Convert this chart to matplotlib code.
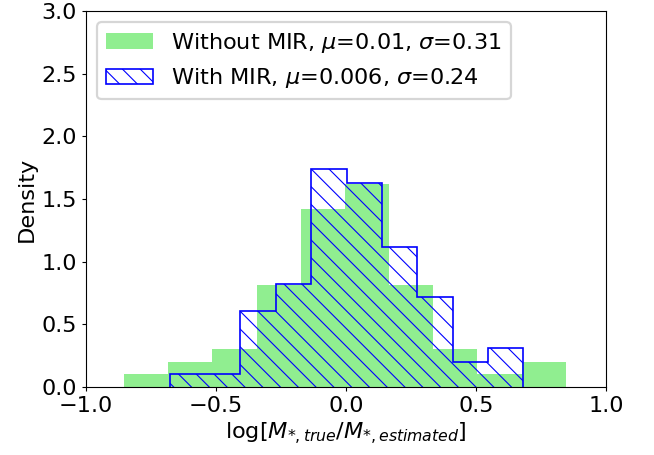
import numpy as np
import matplotlib
matplotlib.use("Agg")
import matplotlib.pyplot as plt

# density histograms of log(M_true / M_estimated)
green_edges = [-0.853, -0.683, -0.514, -0.344, -0.174, -0.004, 0.165, 0.335, 0.505, 0.675, 0.845]
green_density = [0.10, 0.20, 0.30, 0.81, 1.42, 1.62, 0.81, 0.30, 0.10, 0.20]

blue_edges = [-0.678, -0.542, -0.406, -0.270, -0.134, 0.002, 0.138, 0.274, 0.410, 0.546, 0.682]
blue_density = [0.10, 0.10, 0.61, 0.82, 1.74, 1.63, 1.12, 0.72, 0.20, 0.31]

label_without = r'Without MIR, $\mu$=0.01, $\sigma$=0.31'
label_with = r'With MIR, $\mu$=0.006, $\sigma$=0.24'

plt.rcParams['font.size'] = 10.1
plt.rcParams['hatch.linewidth'] = 0.5
plt.rcParams['hatch.color'] = 'blue'

fig = plt.figure(figsize=(654 / 160, 455 / 160), dpi=160)
ax = fig.add_axes([86 / 654, 68 / 455, 520 / 654, 376 / 455])

ax.hist(green_edges[:-1], bins=green_edges, weights=green_density,
        histtype='stepfilled', color='lightgreen', label=label_without)
ax.hist(blue_edges[:-1], bins=blue_edges, weights=blue_density,
        histtype='step', color='blue', hatch='\\\\\\', linewidth=0.75, label=label_with)

ax.set_xlim(-1, 1)
ax.set_ylim(0, 3)
ax.set_xticks([-1.0, -0.5, 0.0, 0.5, 1.0])
ax.set_yticks([0.0, 0.5, 1.0, 1.5, 2.0, 2.5, 3.0])
ax.set_xlabel(r'log[$M_{*, true}/M_{*, estimated}$]', labelpad=2)
ax.set_ylabel('Density', labelpad=2)

for s in ax.spines.values():
    s.set_linewidth(0.5)
ax.tick_params(length=2, width=0.5, pad=2)

ax.legend(loc='upper left', handlelength=2.1)

fig.savefig('out.png', dpi=160)
